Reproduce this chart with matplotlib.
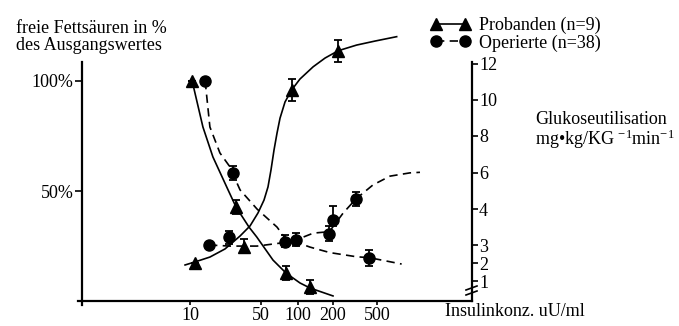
import numpy as np
import matplotlib
matplotlib.use('Agg')
from matplotlib import pyplot as plt
from matplotlib.lines import Line2D

# Insulin concentration (uU/ml) against free fatty acids (% of baseline)
# and glucose utilisation (mg/kg/min).

# Probanden (n=9)
pro_ffa_x = [10.5, 28.4, 79.9, 126.8]
pro_ffa_y = [100, 42.7, 12.7, 6.4]
pro_ffa_err = [0, 3.0, 3.2, 3.2]
pro_ffa_curve_x = [10.5, 13.4, 16.8, 23.7, 28.4, 38.1, 45.4, 62.6, 79.9, 104, 126.8, 200]
pro_ffa_curve_y = [100, 79.1, 65.5, 50.5, 42.7, 33.6, 29.1, 18.6, 12.7, 8.2, 5.9, 2.3]

pro_glu_x = [11.2, 34.2, 88.8, 223]
pro_glu_y = [2.0, 2.87, 10.55, 12.7]
pro_glu_err = [0, 0.3, 0.6, 0.6]
pro_glu_curve_x = [9.0, 11.2, 15.7, 22.1, 31.1, 39.0, 46.7, 52.9, 57.0, 60.3, 63.8,
                   67.5, 71.4, 78.4, 88.8, 104, 135, 171, 223, 327, 480, 755]
pro_glu_curve_y = [1.89, 2.06, 2.33, 2.78, 3.25, 3.53, 3.89, 4.49, 5.21, 6.14, 7.23,
                   8.16, 8.99, 9.89, 10.55, 11.15, 11.82, 12.3, 12.7, 13.01, 13.23, 13.47]

# Operierte (n=38)
op_ffa_x = [14.1, 26.3, 426]
op_ffa_y = [100, 58.0, 19.7]
op_ffa_err = [0, 3.2, 3.6]
op_ffa_curve_x = [14.1, 15.7, 19.7, 24.8, 26.3, 31.1, 45.7, 67.5, 78.4, 96.3, 126.8, 188, 327, 426, 838]
op_ffa_curve_y = [100, 79.1, 67.3, 60.9, 58.0, 50.5, 41.8, 33.6, 28.6, 26.8, 24.5, 22.0, 20.1, 19.7, 16.8]

op_glu_x = [15.4, 24.2, 78.4, 95.8, 186, 201, 320]
op_glu_y = [3.0, 3.21, 3.09, 3.14, 3.31, 3.69, 4.55]
op_glu_err_lo = [0, 0.18, 0.2, 0.2, 0.21, 0.15, 0.4]
op_glu_err_hi = [0, 0.18, 0.2, 0.2, 0.21, 0.49, 0.4]
op_glu_curve_x = [15.4, 24.8, 45.7, 78.4, 96.3, 135.4, 186, 246, 322, 460, 656, 997, 1230]
op_glu_curve_y = [3.0, 2.94, 2.94, 3.07, 3.14, 3.33, 3.37, 3.88, 4.55, 5.32, 5.80, 5.98, 6.01]

x_ticks = [10, 50, 100, 200, 500]
ffa_ticks = [50, 100]
glu_ticks = [1, 2, 3, 4, 6, 8, 10, 12]

# the hand-drawn axes are not quite regular, so both use a piecewise scale
W, H = 679, 326
LOG_K = np.array([-3, 0, 1, np.log10(50), 2, np.log10(200), np.log10(500), 4])
PX_K = np.array([-242, 82, 190, 261, 298, 333, 377, 520])
GLU_K = np.array([0, 1, 2, 3, 4, 6, 8, 10, 12, 16])
GLU_PCT = (301 - np.array([301, 281, 263, 245, 209, 172.5, 136, 100, 63.5, -9.5])) / 2.2
Y_TOP = (301 - 62) / 2.2


def x_fwd(v):
    return np.interp(np.log10(np.clip(v, 1e-3, None)), LOG_K, PX_K)


def x_inv(u):
    return 10 ** np.interp(u, PX_K, LOG_K)


def g_fwd(v):
    return np.interp(v, GLU_K, GLU_PCT)


def g_inv(p):
    return np.interp(p, GLU_PCT, GLU_K)


plt.rcParams['font.family'] = ['Liberation Serif', 'DejaVu Serif']
plt.rcParams['mathtext.fontset'] = 'custom'
plt.rcParams['mathtext.rm'] = 'Liberation Serif'
plt.rcParams['mathtext.default'] = 'regular'

fig = plt.figure(figsize=(W / 100, H / 100), dpi=100)
ax = fig.add_axes([82 / W, 25 / H, 390 / W, 239 / H])
ax.set_xscale('function', functions=(x_fwd, x_inv))
ax.set_xlim(x_inv(82), x_inv(472))
ax.set_ylim(0, Y_TOP)

ax2 = ax.twinx()
ax2.set_yscale('function', functions=(g_fwd, g_inv))
ax2.set_ylim(0, g_inv(Y_TOP))

dash = (0, (5, 3.2))
lw = 1.2
ebkw = dict(color='k', ecolor='k', elinewidth=1.3, capsize=3, capthick=1.3, ls='none', clip_on=False)

# fatty acids on the left axis
ax.plot(pro_ffa_curve_x, pro_ffa_curve_y, color='k', lw=lw, clip_on=False)
ax.plot(op_ffa_curve_x, op_ffa_curve_y, color='k', lw=lw, ls=dash, clip_on=False)
ax.errorbar(pro_ffa_x, pro_ffa_y, yerr=pro_ffa_err, marker='^', ms=9, **ebkw)
ax.errorbar(op_ffa_x, op_ffa_y, yerr=op_ffa_err, marker='o', ms=8, **ebkw)

# glucose utilisation on the right axis
ax2.plot(pro_glu_curve_x, pro_glu_curve_y, color='k', lw=lw, clip_on=False)
ax2.plot(op_glu_curve_x, op_glu_curve_y, color='k', lw=lw, ls=dash, clip_on=False)
ax2.errorbar(pro_glu_x, pro_glu_y, yerr=pro_glu_err, marker='^', ms=9, **ebkw)
ax2.errorbar(op_glu_x, op_glu_y, yerr=[op_glu_err_lo, op_glu_err_hi], marker='o', ms=8, **ebkw)

for s in ['top', 'right']:
    ax.spines[s].set_visible(False)
for s in ['top', 'left', 'bottom']:
    ax2.spines[s].set_visible(False)
for sp in [ax.spines['left'], ax.spines['bottom'], ax2.spines['right']]:
    sp.set_linewidth(1.6)
ax.spines['left'].set_bounds(-2, Y_TOP)
ax2.spines['right'].set_bounds(g_inv(-1), g_inv(Y_TOP))
ax.spines['bottom'].set_bounds(x_inv(78), x_inv(472))

ax.set_xticks(x_ticks)
ax.set_xticklabels([str(t) for t in x_ticks])
ax.set_yticks(ffa_ticks)
ax.set_yticklabels([f'{t}%' for t in ffa_ticks])
ax2.set_yticks(glu_ticks)
ax2.set_yticklabels([str(t) for t in glu_ticks])
ax.minorticks_off()
ax2.minorticks_off()
ax.tick_params(axis='x', direction='out', length=3, width=1.2, pad=1, labelsize=13)
ax.tick_params(axis='y', direction='out', length=5, width=1.2, pad=1, labelsize=13)
ax2.tick_params(axis='y', direction='out', length=4, width=1.2, pad=1, labelsize=13)

# axis break on the glucose axis
for yb in (288, 293):
    fig.add_artist(Line2D([466 / W, 477 / W], [1 - (yb + 2) / H, 1 - (yb - 2) / H], color='k', lw=1.2))

fig.text(16 / W, 1 - 20 / H, 'freie Fettsäuren in %\ndes Ausgangswertes',
         ha='left', va='top', fontsize=13, linespacing=0.98)
fig.text(535 / W, 1 - 120 / H, 'Glukoseutilisation', ha='left', va='center', fontsize=13)
fig.text(535 / W, 1 - 139 / H, 'mg•kg/KG $^{-1}$min$^{-1}$', ha='left', va='center', fontsize=13)
fig.text(445 / W, 1 - 312 / H, 'Insulinkonz. uU/ml', ha='left', va='center', fontsize=13)

handles = [Line2D([], [], color='k', lw=lw, marker='^', ms=9),
           Line2D([], [], color='k', lw=lw, ls=dash, marker='o', ms=8)]
fig.legend(handles, ['Probanden (n=9)', 'Operierte (n=38)'], loc='upper left',
           bbox_to_anchor=(431 / W, 1 - 17 / H), frameon=False, numpoints=2,
           handlelength=2.16, handletextpad=0.48, borderpad=0, borderaxespad=0,
           labelspacing=0.0, fontsize=13)

fig.savefig('out.png', dpi=100)
